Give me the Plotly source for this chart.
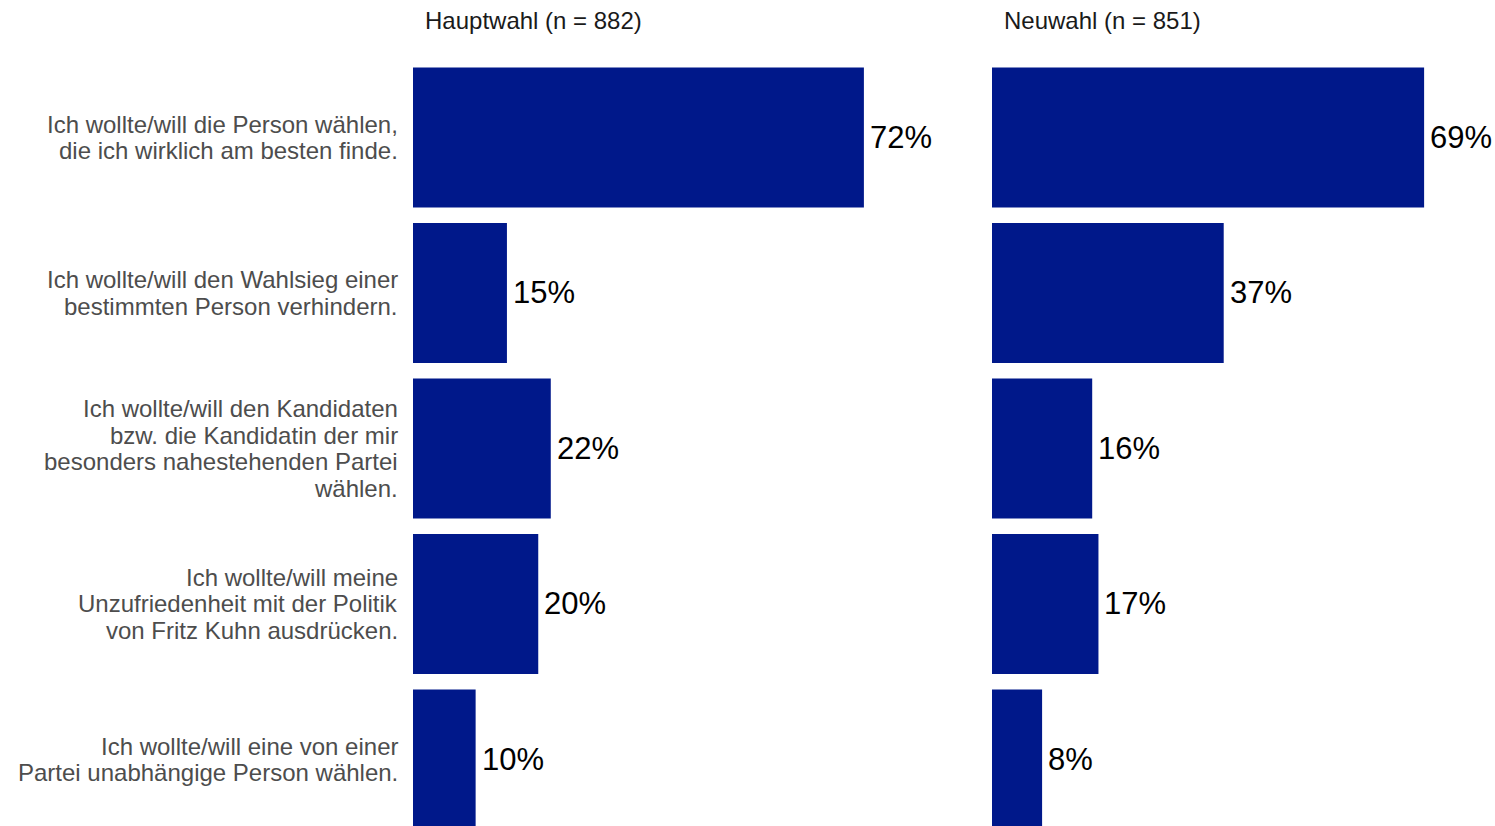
import plotly.graph_objects as go

# Survey answers (top to bottom) and shares in percent per election round
categories = [
    "Ich wollte/will die Person wählen,<br>die ich wirklich am besten finde.",
    "Ich wollte/will den Wahlsieg einer<br>bestimmten Person verhindern.",
    "Ich wollte/will den Kandidaten<br>bzw. die Kandidatin der mir<br>besonders nahestehenden Partei<br>wählen.",
    "Ich wollte/will meine<br>Unzufriedenheit mit der Politik<br>von Fritz Kuhn ausdrücken.",
    "Ich wollte/will eine von einer<br>Partei unabhängige Person wählen.",
]
hauptwahl = [72, 15, 22, 20, 10]
neuwahl = [69, 37, 16, 17, 8]
panel_titles = ["Hauptwahl (n = 882)", "Neuwahl (n = 851)"]

BAR_COLOR = "#00188A"
FONT = "Liberation Sans, Arial, Helvetica, sans-serif"
W, H = 1495, 826
LABEL_SIZE = 24
LINE_STEP = 26.5

fig = go.Figure()
panels = [("x", "y", hauptwahl), ("x2", "y2", neuwahl)]
for xa, ya, vals in panels:
    fig.add_trace(go.Bar(
        x=vals, y=categories, orientation="h", width=0.9,
        marker=dict(color=BAR_COLOR, line=dict(width=0)),
        xaxis=xa, yaxis=ya, hoverinfo="x", showlegend=False,
    ))
    for v, c in zip(vals, categories):
        fig.add_annotation(
            x=v, y=c, xref=xa, yref=ya, text=f"{v}%", showarrow=False,
            xanchor="left", yanchor="middle", xshift=4,
            font=dict(family=FONT, size=31, color="#000000"),
        )

# Plot-area geometry in pixels
left_dom = (413 / W, 914 / W)
right_dom = (992 / W, 1493 / W)
top_px = 55
y_range = [4.4277, -0.5305]

# Category labels, right-aligned left of the first panel, one line at a time
for c in categories:
    lines = c.split("<br>")
    n = len(lines)
    for i, line in enumerate(lines):
        fig.add_annotation(
            x=left_dom[0], y=c, xref="paper", yref="y", text=line, showarrow=False,
            xanchor="right", yanchor="middle", xshift=-13,
            yshift=-(i - (n - 1) / 2) * LINE_STEP,
            font=dict(family=FONT, size=LABEL_SIZE, color="#4D4D4D"),
        )

axis_common = dict(range=[0, 80], showgrid=False, zeroline=False,
                   showticklabels=False, ticks="", showline=False, fixedrange=True)
y_common = dict(domain=[0, 1], categoryorder="array", categoryarray=categories,
                range=y_range, showgrid=False, zeroline=False, ticks="",
                showticklabels=False, fixedrange=True)
fig.update_layout(
    width=W, height=H,
    margin=dict(l=0, r=0, t=top_px, b=0, autoexpand=False),
    paper_bgcolor="white", plot_bgcolor="white",
    xaxis=dict(domain=left_dom, anchor="y", **axis_common),
    xaxis2=dict(domain=right_dom, anchor="y2", **axis_common),
    yaxis=dict(anchor="x", **y_common),
    yaxis2=dict(anchor="x2", matches="y", **y_common),
    font=dict(family=FONT),
)

# Facet titles above each panel
title_y = 1 + (top_px - 21) / (H - top_px)
for dom, title in zip([left_dom, right_dom], panel_titles):
    fig.add_annotation(
        x=dom[0] + 10 / W, y=title_y, xref="paper", yref="paper",
        text=title, showarrow=False, xanchor="left", yanchor="middle",
        font=dict(family=FONT, size=LABEL_SIZE, color="#1A1A1A"),
    )

fig.write_html("out.html")
